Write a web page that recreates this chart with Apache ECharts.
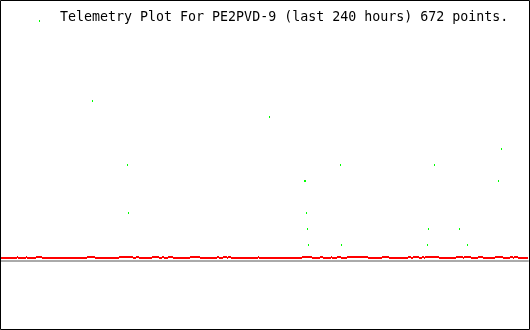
<!DOCTYPE html>
<html>
<head>
<meta charset="utf-8">
<script src="https://cdn.jsdelivr.net/npm/echarts@6/dist/echarts.min.js"></script>
<style>
html,body{margin:0;padding:0;background:#fff;}
#chart{width:530px;height:330px;}
</style>
</head>
<body>
<div id="chart"></div>
<script>
// ---- data (x in hours since start of the 240 h window) ----
const titleText = 'Telemetry Plot For PE2PVD-9 (last 240 hours) 672 points.';
const xMin = 0, xMax = 240;
const yMin = 0, yMax = 16;

// green telemetry samples: hour, value
const greenHours = [42.05, 57.95, 58.41, 122.50, 138.41, 138.86, 139.32, 139.77, 140.23,
                    154.77, 155.23, 194.32, 194.77, 197.50, 208.86, 212.50, 226.59, 227.95];
const greenValues = [10, 6, 3, 9, 5, 5, 3, 2, 1,
                     6, 1, 1, 2, 6, 2, 1, 5, 7];

// red trace: base level and raised intervals (start hour, end hour)
const redBase = 0.1875;
const redHigh = 0.25;
const redRaiseStart = [7.73, 11.82, 16.36, 39.55, 54.09, 61.82, 69.09, 73.64, 76.36, 86.36,
                       98.64, 101.36, 103.64, 117.27, 137.27, 145.45, 150.45, 153.18, 157.73, 173.64,
                       185.45, 187.73, 191.82, 193.18, 207.27, 210.91, 217.27, 225.00, 231.82, 233.64];
const redRaiseEnd   = [8.18, 12.27, 19.09, 43.18, 60.45, 63.18, 72.27, 74.55, 78.64, 90.91,
                       99.55, 103.18, 105.00, 117.73, 141.82, 146.82, 150.91, 155.00, 167.27, 176.82,
                       186.82, 190.45, 192.73, 199.55, 210.45, 214.09, 219.55, 228.64, 233.18, 235.45];

// ---- build series data ----
const greenData = greenHours.map((h, i) => [h, greenValues[i]]);
// red segments: [start, end, level]
const redSegments = [];
let cursor = xMin;
for (let i = 0; i < redRaiseStart.length; i++) {
  redSegments.push([cursor, redRaiseStart[i], redBase]);
  redSegments.push([redRaiseStart[i], redRaiseEnd[i], redHigh]);
  cursor = redRaiseEnd[i];
}
redSegments.push([cursor, xMax, redBase]);

function renderSegment(params, api) {
  const a = api.coord([api.value(0), api.value(2)]);
  const b = api.coord([api.value(1), api.value(2)]);
  const x0 = Math.round(a[0]), x1 = Math.round(b[0]), y = Math.round(a[1]);
  return {
    type: 'rect',
    shape: {x: x0, y: y - 1, width: Math.max(1, x1 - x0), height: 2},
    style: {fill: '#ff0000'}
  };
}
function renderDot(params, api) {
  const p = api.coord([api.value(0), api.value(1)]);
  return {
    type: 'rect',
    shape: {x: Math.floor(p[0]), y: Math.round(p[1]) - 1, width: 1, height: 2},
    style: {fill: '#00ff00'}
  };
}

const chart = echarts.init(document.getElementById('chart'), null, {renderer: 'canvas'});
chart.setOption({
  animation: false,
  backgroundColor: '#ffffff',
  title: {
    text: titleText,
    left: 60, top: 11, padding: 0,
    textStyle: {fontFamily: 'DejaVu Sans Mono', fontSize: 13.3, fontWeight: 'normal', color: '#000'}
  },
  legend: {
    left: 39, top: 20, padding: 0,
    itemWidth: 1, itemHeight: 2,
    data: [{name: 'telemetry', icon: 'rect', itemStyle: {color: '#00ff00'}}],
    formatter: () => '',
    selectedMode: false
  },
  grid: {left: 0, right: 2, top: 5, height: 256},
  xAxis: {
    type: 'value', min: xMin, max: xMax,
    axisLine: {show: true, lineStyle: {color: '#aaaaaa', width: 2}},
    axisTick: {show: false}, axisLabel: {show: false}, splitLine: {show: false}
  },
  yAxis: {
    type: 'value', min: yMin, max: yMax,
    axisLine: {show: false}, axisTick: {show: false}, axisLabel: {show: false}, splitLine: {show: false}
  },
  series: [
    {
      name: 'trace', type: 'custom', data: redSegments, renderItem: renderSegment,
      encode: {x: [0, 1], y: 2}, itemStyle: {color: '#ff0000'}, z: 3
    },
    {
      name: 'telemetry', type: 'custom', data: greenData, renderItem: renderDot,
      encode: {x: 0, y: 1}, itemStyle: {color: '#00ff00'}, z: 4
    }
  ],
  graphic: [{
    type: 'rect', shape: {x: 0.5, y: 0.5, width: 529, height: 329},
    style: {fill: 'none', stroke: '#000', lineWidth: 1}, z: 100, silent: true
  }]
});
</script>
</body>
</html>
